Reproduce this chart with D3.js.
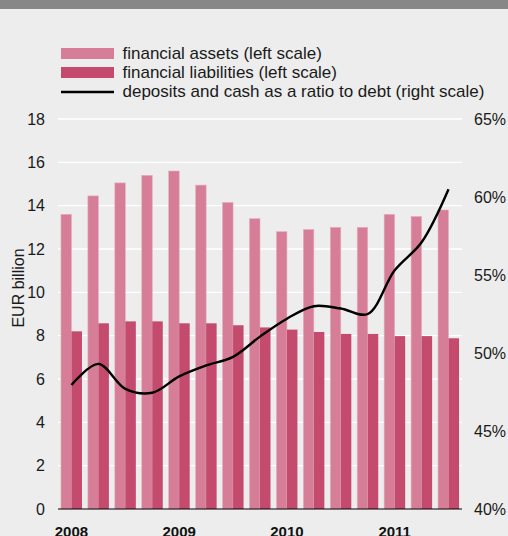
<!DOCTYPE html>
<html><head><meta charset="utf-8">
<script src="https://cdn.jsdelivr.net/npm/d3@7"></script>
<style>
html,body{margin:0;padding:0;background:#ECEDEC;}
svg{display:block;font-family:"Liberation Sans",Arial,Helvetica,sans-serif;}
</style></head>
<body>
<script>
const quarters = ["2008Q1","2008Q2","2008Q3","2008Q4","2009Q1","2009Q2","2009Q3","2009Q4","2010Q1","2010Q2","2010Q3","2010Q4","2011Q1","2011Q2","2011Q3"];
const assets = [13.6,14.45,15.05,15.4,15.6,14.95,14.15,13.4,12.8,12.9,13.0,13.0,13.6,13.5,13.8];
const liabilities = [8.2,8.57,8.66,8.66,8.57,8.57,8.48,8.38,8.28,8.17,8.08,8.08,7.98,7.98,7.88];
const ratio = [47.95,49.3,47.7,47.45,48.5,49.2,49.75,51.05,52.2,53.0,52.85,52.5,55.3,57.1,60.5];
const leftTicks = [0,2,4,6,8,10,12,14,16,18];
const rightTicks = [40,45,50,55,60,65];
const yearLabels = {"2008Q1":"2008","2009Q1":"2009","2010Q1":"2010","2011Q1":"2011"};
const legendItems = ["financial assets (left scale)","financial liabilities (left scale)","deposits and cash as a ratio to debt (right scale)"];

const W=508,H=536;
const L=58,R=462,T=119,B=509;
const cAssets="#D67E98", cLiab="#C54B6E";

const svg=d3.select("body").append("svg").attr("width",W).attr("height",H);
svg.append("rect").attr("width",W).attr("height",H).attr("fill","#ECEDEC");
svg.append("rect").attr("width",W).attr("height",9).attr("fill","#878787");

const x0=d3.scaleBand().domain(quarters).range([L,R]).paddingInner(0.22).paddingOuter(0.11);
const x1=d3.scaleBand().domain(["a","l"]).range([0,x0.bandwidth()]);
const yL=d3.scaleLinear().domain([0,18]).range([B,T]);
const yR=d3.scaleLinear().domain([40,65]).range([B,T]);

// gridlines
svg.append("g").selectAll("line").data(leftTicks.filter(d=>d>0)).join("line")
  .attr("x1",L).attr("x2",R).attr("y1",d=>yL(d)).attr("y2",d=>yL(d))
  .attr("stroke","#ffffff").attr("stroke-width",1.3);

// bars
const g=svg.append("g");
g.selectAll("rect.a").data(quarters).join("rect").attr("class","a")
  .attr("x",d=>x0(d)+x1("a")).attr("width",x1.bandwidth())
  .attr("y",(d,i)=>yL(assets[i])).attr("height",(d,i)=>yL(0)-yL(assets[i]))
  .attr("fill",cAssets).attr("stroke","#E6AEBE").attr("stroke-width",0.6);
g.selectAll("rect.l").data(quarters).join("rect").attr("class","l")
  .attr("x",d=>x0(d)+x1("l")).attr("width",x1.bandwidth())
  .attr("y",(d,i)=>yL(liabilities[i])).attr("height",(d,i)=>yL(0)-yL(liabilities[i]))
  .attr("fill",cLiab);

// baseline
svg.append("line").attr("x1",L).attr("x2",R).attr("y1",B).attr("y2",B).attr("stroke","#000").attr("stroke-width",1.2);

// line
const line=d3.line().x((d,i)=>x0(quarters[i])+x0.bandwidth()/2).y(d=>yR(d)).curve(d3.curveCatmullRom.alpha(0.5));
svg.append("path").datum(ratio).attr("d",line).attr("fill","none").attr("stroke","#000").attr("stroke-width",2.4);

// left axis
const axL=d3.axisLeft(yL).tickValues(leftTicks).tickSize(0).tickPadding(0);
const gL=svg.append("g").attr("transform",`translate(45,0)`).call(axL);
gL.select(".domain").remove();
gL.selectAll("text").attr("font-size",16).attr("fill","#1a1a1a").attr("font-family","Liberation Sans,Arial,sans-serif");

// right axis
const axR=d3.axisRight(yR).tickValues(rightTicks).tickFormat(d=>d+"%").tickSize(0).tickPadding(0);
const gR=svg.append("g").attr("transform",`translate(474,0)`).call(axR);
gR.select(".domain").remove();
gR.selectAll("text").attr("font-size",16).attr("fill","#1a1a1a").attr("font-family","Liberation Sans,Arial,sans-serif");

// x axis year labels
const axX=d3.axisBottom(x0).tickValues(Object.keys(yearLabels)).tickFormat(d=>yearLabels[d]).tickSize(0).tickPadding(0);
const gX=svg.append("g").attr("transform",`translate(0,${B})`).call(axX);
gX.select(".domain").remove();
gX.selectAll("text").attr("font-size",15).attr("font-weight","bold").attr("fill","#111")
  .attr("font-family","Liberation Sans,Arial,sans-serif").attr("dy",null).attr("y",27.5);

// y title
svg.append("text").attr("transform","translate(24,288) rotate(-90)").attr("text-anchor","middle")
  .attr("font-size",16).attr("fill","#1a1a1a").text("EUR billion");

// legend
const lg=svg.append("g");
lg.append("rect").attr("x",61).attr("y",48).attr("width",53).attr("height",11).attr("fill",cAssets);
lg.append("rect").attr("x",61).attr("y",67).attr("width",53).attr("height",11).attr("fill",cLiab);
lg.append("line").attr("x1",61).attr("x2",114).attr("y1",92).attr("y2",92).attr("stroke","#000").attr("stroke-width",2.4);
lg.selectAll("text").data(legendItems).join("text")
  .attr("x",122.5).attr("y",(d,i)=>58.5+i*19).attr("font-size",17).attr("fill","#1a1a1a").text(d=>d);
</script>
</body></html>
